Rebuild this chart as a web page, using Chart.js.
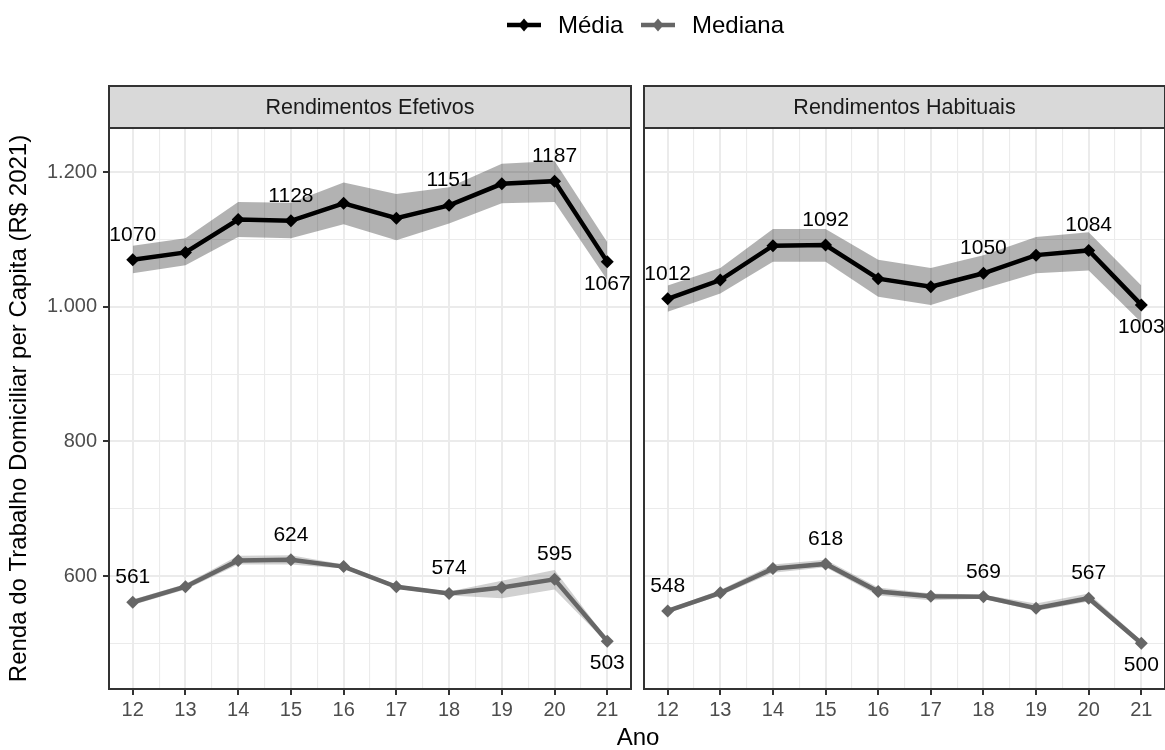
<!DOCTYPE html>
<html>
<head>
<meta charset="utf-8">
<script src="https://cdn.jsdelivr.net/npm/chart.js@4"></script>
<style>
  html, body { margin: 0; padding: 0; background: #ffffff; }
  #wrap { position: relative; width: 1165px; height: 750px; overflow: hidden; background: #ffffff; }
  #wrap canvas { position: absolute; left: 0; top: 0; }
</style>
</head>
<body>
<div id="wrap">
  <canvas id="panelEfetivos" width="1165" height="750"></canvas>
  <canvas id="panelHabituais" width="1165" height="750"></canvas>
</div>
<script>
// Anos (20xx)
const years = [12, 13, 14, 15, 16, 17, 18, 19, 20, 21];

// Rendimentos efetivos
const mediaEfetivos     = [1070, 1081, 1130, 1128, 1154, 1132, 1151, 1183, 1187, 1067];
const mediaEfetivosHi   = [1091, 1102, 1156, 1155, 1185, 1168, 1178, 1213, 1217, 1096];
const mediaEfetivosLo   = [1050, 1062, 1104, 1102, 1123, 1099, 1124, 1154, 1156, 1040];
const medianaEfetivos   = [561, 584, 623, 624, 614, 584, 574, 583, 595, 503];
const medianaEfetivosHi = [565, 588, 630, 631, 617, 587, 577, 593, 609, 506];
const medianaEfetivosLo = [557, 580, 617, 617, 611, 581, 571, 567, 580, 500];

// Rendimentos habituais
const mediaHabituais     = [1012, 1040, 1091, 1092, 1042, 1030, 1050, 1077, 1084, 1003];
const mediaHabituaisHi   = [1032, 1058, 1116, 1116, 1070, 1058, 1077, 1104, 1111, 1032];
const mediaHabituaisLo   = [993, 1020, 1067, 1067, 1015, 1003, 1027, 1050, 1054, 977];
const medianaHabituais   = [548, 575, 611, 618, 577, 570, 569, 552, 567, 500];
const medianaHabituaisHi = [551, 579, 617, 624, 583, 574, 572, 559, 574, 504];
const medianaHabituaisLo = [545, 571, 605, 613, 571, 564, 566, 548, 562, 496];

// Eixos
const yTicks = [500, 600, 700, 800, 900, 1000, 1100, 1200];
const yMajor = [600, 800, 1000, 1200];
const xTicks = [12, 12.5, 13, 13.5, 14, 14.5, 15, 15.5, 16, 16.5, 17, 17.5, 18, 18.5, 19, 19.5, 20, 20.5, 21];

// Pontos com rótulo de valor (último rótulo fica abaixo do ponto)
const labelIdx = [0, 3, 6, 8, 9];
const belowIdx = [9];

const FONT = '"Liberation Sans", Arial, Helvetica, sans-serif';
const MEDIA_COLOR = '#000000';
const MEDIANA_COLOR = '#666666';
const GRID = '#EBEBEB';
const DARK = '#333333';

Chart.defaults.font.family = FONT;
Chart.defaults.animation = false;

const fmt = v => String(v).replace(/\B(?=(\d{3})+(?!\d))/g, '.');
const pts = arr => arr.map((v, i) => ({ x: years[i], y: v }));

function lineSet(label, arr, color) {
  return {
    label, data: pts(arr), borderColor: color, backgroundColor: color,
    borderWidth: 4.5, pointStyle: 'rectRot', pointRadius: 6.5, pointBorderWidth: 0,
    pointBackgroundColor: color, fill: false, tension: 0, order: 0
  };
}
function bandSet(arr, fillColor, fillTarget) {
  return {
    label: '', data: pts(arr), borderWidth: 0, borderColor: 'rgba(0,0,0,0)',
    backgroundColor: fillColor, pointRadius: 0, fill: fillTarget, tension: 0, order: 2
  };
}

const panelDecor = {
  id: 'panelDecor',
  afterDatasetsDraw(chart, args, opts) {
    const { ctx, chartArea: a, scales: { x, y } } = chart;
    ctx.save();
    // value labels
    ctx.font = '21px ' + FONT;
    ctx.fillStyle = '#000000';
    ctx.textAlign = 'center';
    ctx.textBaseline = 'alphabetic';
    [opts.media, opts.mediana].forEach(series => {
      labelIdx.forEach(i => {
        const v = series[i];
        const px = x.getPixelForValue(years[i]);
        const py = y.getPixelForValue(v);
        const below = belowIdx.includes(i);
        ctx.fillText(String(v), px, below ? py + 28 : py - 19);
      });
    });
    // panel border
    ctx.strokeStyle = DARK;
    ctx.lineWidth = 2;
    ctx.strokeRect(a.left, a.top, a.right - a.left, a.bottom - a.top);
    // strip
    const sTop = 86;
    ctx.fillStyle = '#D9D9D9';
    ctx.fillRect(a.left, sTop, a.right - a.left, a.top - sTop);
    ctx.strokeRect(a.left, sTop, a.right - a.left, a.top - sTop);
    ctx.fillStyle = '#1A1A1A';
    ctx.font = '21.5px ' + FONT;
    ctx.textBaseline = 'middle';
    ctx.fillText(opts.strip, (a.left + a.right) / 2, (sTop + a.top) / 2 + 1);
    ctx.restore();
  }
};

const pageDecor = {
  id: 'pageDecor',
  afterDraw(chart) {
    const ctx = chart.ctx;
    ctx.save();
    // x axis title
    ctx.fillStyle = '#000000';
    ctx.font = '24px ' + FONT;
    ctx.textAlign = 'center';
    ctx.textBaseline = 'alphabetic';
    ctx.fillText('Ano', 638, 745);
    // legend
    const items = [
      { text: 'Média', color: MEDIA_COLOR, x0: 507 },
      { text: 'Mediana', color: MEDIANA_COLOR, x0: 641 }
    ];
    items.forEach(it => {
      ctx.strokeStyle = it.color;
      ctx.lineWidth = 4.5;
      ctx.beginPath();
      ctx.moveTo(it.x0, 25);
      ctx.lineTo(it.x0 + 34, 25);
      ctx.stroke();
      const cx = it.x0 + 17, r = 6.5;
      ctx.fillStyle = it.color;
      ctx.beginPath();
      ctx.moveTo(cx, 25 - r); ctx.lineTo(cx + r * 0.85, 25);
      ctx.lineTo(cx, 25 + r); ctx.lineTo(cx - r * 0.85, 25);
      ctx.closePath(); ctx.fill();
      ctx.fillStyle = '#000000';
      ctx.textAlign = 'left';
      ctx.fillText(it.text, it.x0 + 51, 33);
    });
    ctx.restore();
  }
};

function makePanel(canvasId, p) {
  const yMajorW = c => (c.tick && yMajor.includes(c.tick.value)) ? 2 : 1.1;
  const xMajorW = c => (c.tick && Number.isInteger(c.tick.value)) ? 2 : 1.1;
  const plugins = [panelDecor];
  if (p.page) plugins.push(pageDecor);
  return new Chart(document.getElementById(canvasId), {
    type: 'line',
    data: {
      datasets: [
        lineSet('Média', p.media, MEDIA_COLOR),
        lineSet('Mediana', p.mediana, MEDIANA_COLOR),
        bandSet(p.mediaHi, 'rgba(0,0,0,0.3)', '+1'),
        bandSet(p.mediaLo, 'rgba(0,0,0,0)', false),
        bandSet(p.medianaHi, 'rgba(102,102,102,0.3)', '+1'),
        bandSet(p.medianaLo, 'rgba(0,0,0,0)', false)
      ]
    },
    options: {
      responsive: false,
      animation: false,
      events: [],
      layout: { padding: p.padding, autoPadding: false },
      plugins: {
        legend: { display: false },
        tooltip: { enabled: false },
        panelDecor: { strip: p.strip, media: p.media, mediana: p.mediana }
      },
      scales: {
        x: {
          type: 'linear', min: 11.55, max: 21.45,
          afterBuildTicks: s => { s.ticks = xTicks.map(v => ({ value: v })); },
          afterFit: s => { s.height = 61; s.paddingLeft = 0; s.paddingRight = 0; },
          border: { display: false },
          grid: {
            color: GRID, lineWidth: xMajorW, tickLength: 6,
            tickWidth: 2,
            tickColor: c => (c.tick && Number.isInteger(c.tick.value)) ? DARK : 'rgba(0,0,0,0)'
          },
          ticks: {
            autoSkip: false, maxRotation: 0, padding: 3, color: '#4D4D4D',
            font: { size: 20 },
            callback: v => Number.isInteger(v) ? String(v) : ''
          }
        },
        y: {
          type: 'linear', min: 432, max: 1266,
          afterBuildTicks: s => { s.ticks = yTicks.map(v => ({ value: v })); },
          afterFit: s => { s.width = p.yWidth; s.paddingTop = 0; s.paddingBottom = 0; },
          border: { display: false },
          title: {
            display: p.showY,
            text: 'Renda do Trabalho Domiciliar per Capita (R$ 2021)',
            color: '#000000', font: { size: 24 }, padding: { top: 5, bottom: 0 }
          },
          grid: {
            color: GRID, lineWidth: yMajorW, tickLength: 6, tickWidth: 2,
            drawTicks: p.showY,
            tickColor: c => (c.tick && yMajor.includes(c.tick.value)) ? DARK : 'rgba(0,0,0,0)'
          },
          ticks: {
            display: p.showY, autoSkip: false, padding: 6, color: '#4D4D4D',
            font: { size: 20 },
            callback: v => yMajor.includes(v) ? fmt(v) : ''
          }
        }
      }
    },
    plugins
  });
}

makePanel('panelEfetivos', {
  strip: 'Rendimentos Efetivos', page: true, showY: true, yWidth: 109,
  padding: { left: 0, top: 128, right: 534, bottom: 0 },
  media: mediaEfetivos, mediaHi: mediaEfetivosHi, mediaLo: mediaEfetivosLo,
  mediana: medianaEfetivos, medianaHi: medianaEfetivosHi, medianaLo: medianaEfetivosLo
});

makePanel('panelHabituais', {
  strip: 'Rendimentos Habituais', page: false, showY: false, yWidth: 0,
  padding: { left: 644, top: 128, right: -1, bottom: 0 },
  media: mediaHabituais, mediaHi: mediaHabituaisHi, mediaLo: mediaHabituaisLo,
  mediana: medianaHabituais, medianaHi: medianaHabituaisHi, medianaLo: medianaHabituaisLo
});
</script>
</body>
</html>
